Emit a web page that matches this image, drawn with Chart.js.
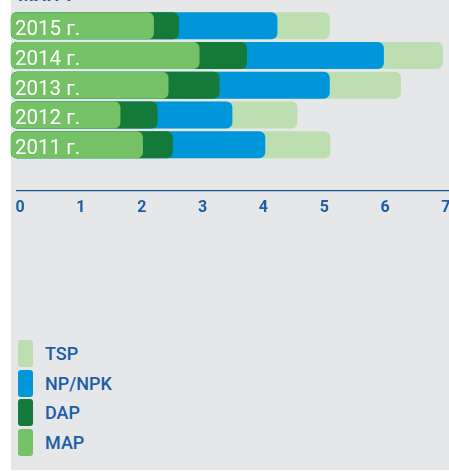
<!DOCTYPE html>
<html>
<head>
<meta charset="utf-8">
<script src="https://cdn.jsdelivr.net/npm/chart.js@4/dist/chart.umd.min.js"></script>
<style>
  body{margin:0;background:#fff;font-family:Roboto,sans-serif;}
  #panel{position:absolute;left:11px;top:0;width:438px;height:470px;background:#e6e7e9;}
  #title{position:absolute;left:18px;top:-14px;font:700 18px/18px Roboto,sans-serif;color:#1b5ea6;white-space:nowrap;}
  #chart{position:absolute;left:0;top:0;}
  #legend{position:absolute;left:18px;top:340px;}
  .item{display:flex;align-items:center;height:27px;margin-bottom:2.5px;}
  .box{width:15px;height:27px;border-radius:3px;margin-right:12px;}
  .txt{font:500 18px Roboto,sans-serif;color:#1b5ea6;}
</style>
</head>
<body>
<div id="panel"></div>
<div id="title">МЛН Т</div>
<canvas id="chart" width="449" height="230"></canvas>
<div id="legend"></div>
<script>
/* ---------- DATA ---------- */
const years  = ['2015 г.','2014 г.','2013 г.','2012 г.','2011 г.'];
const mapVal = [2.20, 2.95, 2.44, 1.65, 2.02];
const dapVal = [0.41, 0.78, 0.84, 0.61, 0.49];
const npkVal = [1.62, 2.25, 1.81, 1.23, 1.52];
const tspVal = [0.86, 0.97, 1.17, 1.07, 1.07];
const xTicks = [0,1,2,3,4,5,6,7];

/* ---------- SERIES (first one is drawn on top) ---------- */
const series = [
  {label:'MAP',    vals:mapVal, color:'#74c166'},
  {label:'DAP',    vals:dapVal, color:'#137a3a'},
  {label:'NP/NPK', vals:npkVal, color:'#0096da'},
  {label:'TSP',    vals:tspVal, color:'#bcdeb1'}
];

// each bar runs from the left edge to its running total and tucks under the previous one
let running = years.map(()=>0);
const datasets = series.map(s=>{
  running = running.map((r,i)=>r+s.vals[i]);
  return {
    label:s.label, data:[...running], backgroundColor:s.color,
    base:-0.15, clip:false, grouped:false,
    borderRadius:6, borderSkipped:false, borderWidth:0,
    barPercentage:0.91, categoryPercentage:1
  };
});

const blue = '#1b5ea6';

// year names written inside the bars, a bit below centre like the original
const yearLabels = {
  id:'yearLabels',
  afterDatasetsDraw(chart){
    const {ctx, scales:{y}} = chart;
    ctx.save();
    ctx.fillStyle = '#fff';
    ctx.font = '20.5px Roboto';
    ctx.textAlign = 'left';
    ctx.textBaseline = 'alphabetic';
    years.forEach((lab,i)=>ctx.fillText(lab, 15, y.getPixelForValue(i) + 9.5));
    ctx.restore();
  }
};

new Chart(document.getElementById('chart').getContext('2d'),{
  type:'bar',
  data:{labels:years,datasets},
  options:{
    indexAxis:'y',
    responsive:false,
    animation:false,
    layout:{autoPadding:false,padding:{left:17,right:0,top:11,bottom:70.5}},
    plugins:{legend:{display:false},tooltip:{enabled:false}},
    scales:{
      x:{
        type:'linear', min:-0.05, max:7.05,
        position:{y:5.56},
        afterBuildTicks:s=>{s.ticks=xTicks.map(v=>({value:v}));},
        afterFit:s=>{s.paddingLeft=0;s.paddingRight=0;},
        grid:{display:true,drawOnChartArea:false,drawTicks:false,color:'rgba(0,0,0,0)'},
        border:{display:true,color:'#1d5593',width:1.2},
        ticks:{color:blue,font:{family:'Roboto',size:16,weight:'bold'},padding:7,maxRotation:0}
      },
      y:{type:'category', offset:true, display:false}
    }
  },
  plugins:[yearLabels]
});

/* ---------- LEGEND ---------- */
document.getElementById('legend').innerHTML = [...series].reverse().map(s=>
  `<div class="item"><div class="box" style="background:${s.color}"></div><span class="txt">${s.label}</span></div>`
).join('');
</script>
</body>
</html>
